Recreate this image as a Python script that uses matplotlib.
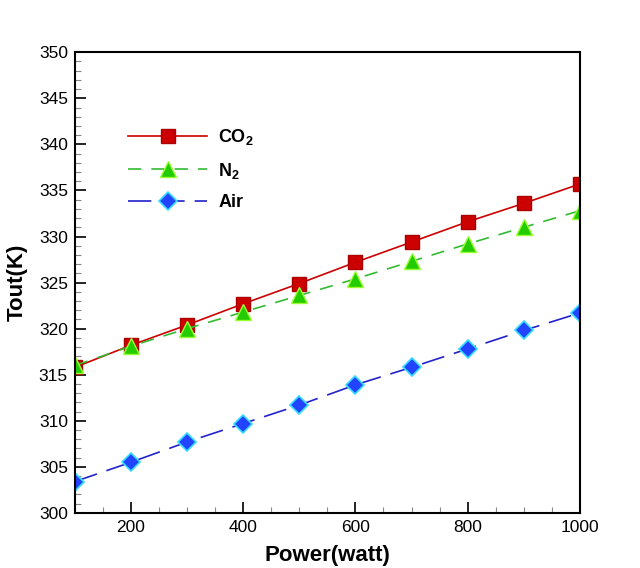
import numpy as np
import matplotlib.pyplot as plt
from matplotlib.ticker import MultipleLocator

plt.rcParams['font.family'] = 'Liberation Sans'
plt.rcParams['mathtext.fontset'] = 'custom'
plt.rcParams['mathtext.rm'] = 'Liberation Sans'
plt.rcParams['mathtext.bf'] = 'Liberation Sans:bold'

# data
power = [100, 200, 300, 400, 500, 600, 700, 800, 900, 1000]
t_co2 = [315.8, 318.2, 320.4, 322.7, 324.9, 327.2, 329.4, 331.6, 333.6, 335.7]
t_n2 = [316.0, 318.1, 320.0, 321.8, 323.6, 325.4, 327.3, 329.2, 331.0, 332.8]
t_air = [303.4, 305.5, 307.7, 309.7, 311.7, 313.9, 315.8, 317.8, 319.8, 321.7]

fig = plt.figure(figsize=(6.4, 5.68), dpi=100)
ax = fig.add_axes([0.117, 0.097, 0.789, 0.811])

ax.plot(power, t_co2, color='#cc0000', lw=1.2, marker='s', ms=10,
        mfc='#cc0000', mec='#aa0000', mew=1.0, label=r'CO$_\mathbf{2}$')
ax.plot(power, t_n2, color='#33bb33', lw=1.2, ls=(0, (8, 6)), marker='^', ms=11,
        mfc='#22cc00', mec='#99ff33', mew=1.0, label=r'N$_\mathbf{2}$')
ax.plot(power, t_air, color='#2222cc', lw=1.2, ls=(0, (14, 6)), marker='D', ms=9,
        mfc='#2244ff', mec='#33ddff', mew=1.2, label='Air')

ax.set_xlim(100, 1000)
ax.set_ylim(300, 350)
ax.xaxis.set_major_locator(MultipleLocator(200))
ax.xaxis.set_minor_locator(MultipleLocator(50))
ax.yaxis.set_major_locator(MultipleLocator(5))
ax.yaxis.set_minor_locator(MultipleLocator(1))
ax.tick_params(which='both', direction='in', top=False, right=False, labelsize=12.5)
ax.tick_params(which='major', length=8, width=1.2, pad=5)
ax.tick_params(which='minor', length=4, width=0.8, color='#888888')
for s in ax.spines.values():
    s.set_linewidth(1.5)

ax.set_xlabel('Power(watt)', fontsize=16, fontweight='bold', labelpad=7)
ax.set_ylabel('Tout(K)', fontsize=16, fontweight='bold', labelpad=8)

leg = ax.legend(loc='upper left', bbox_to_anchor=(0.073, 0.873), frameon=False,
                handlelength=4.4, handletextpad=0.6, labelspacing=0.75,
                prop={'weight': 'bold', 'size': 13})

fig.savefig('out.png', dpi=100)
